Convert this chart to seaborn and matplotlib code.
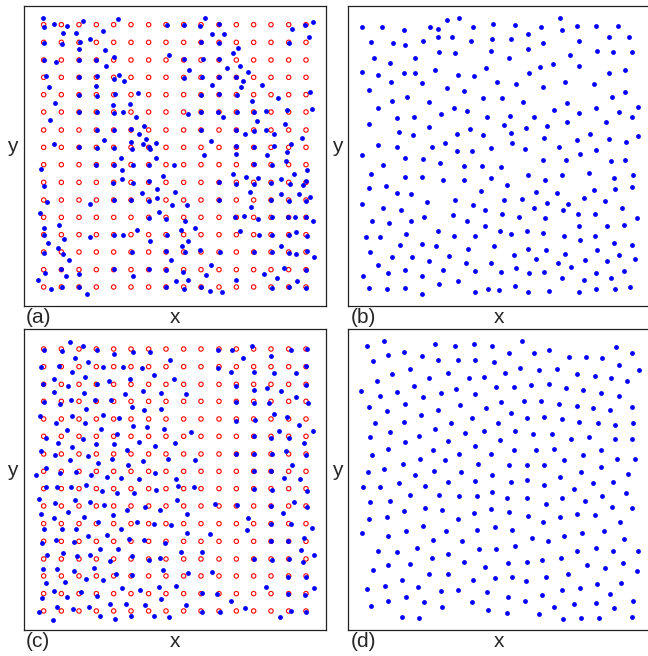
import numpy as np
import matplotlib
matplotlib.use("Agg")
import matplotlib.pyplot as plt
import seaborn as sns

sns.set_style("white")
plt.rcParams['font.family'] = ['Liberation Sans', 'DejaVu Sans']

# ---------------- data (units = 1/3 pixel, y downward) -------------
# lattice positions of the red open circles (panels a and c)
lattice_x = [71, 124, 177, 229, 281, 333, 386, 438, 491, 543, 597, 649, 701, 753, 806, 858]
a_lattice_y = [58, 111, 164, 216, 268, 320, 374, 426, 478, 531, 584, 636, 688, 740, 793, 845]
c_lattice_y = [72, 125, 178, 229, 282, 334, 387, 439, 491, 543, 596, 649, 702, 753, 806, 858]

a_blue = [(68,38),(73,65),(103,57),(140,61),(190,48),(128,82),(167,82),(295,42),(249,76),(556,37),(441,60),(491,60),(541,62),(598,57),(815,70),(856,60),(878,50),
(73,114),(125,116),(180,110),(210,100),(178,132),(576,87),(613,87),(543,111),(598,113),(808,114),(866,95),(254,133),(653,127),(639,144),
(71,163),(108,171),(178,165),(229,165),(282,155),(259,182),(447,150),(492,161),(548,162),(597,162),(659,181),(622,187),(684,199),(508,194),
(78,211),(87,246),(178,216),(231,213),(281,220),(296,208),(313,228),(227,243),(491,219),(545,216),(598,214),(648,216),(670,228),(662,245),(576,238),(727,240),
(105,292),(177,268),(231,271),(285,267),(355,264),(278,300),(331,295),(543,268),(598,267),(650,269),(773,279),(695,288),(869,260),
(91,344),(177,321),(231,321),(282,324),(310,320),(348,334),(544,320),(595,320),(610,336),(651,321),(701,320),(738,317),(712,347),(800,315),(877,312),(503,327),
(230,373),(283,374),(333,371),(373,363),(358,386),(377,402),(251,403),(543,374),(648,374),(674,386),(701,376),(738,374),(763,387),(794,355),(845,397),
(103,417),(178,426),(230,428),(283,427),(333,411),(337,432),(370,416),(387,425),(391,430),(408,412),(573,406),(648,423),(701,426),(763,421),(812,416),(800,440),(551,448),(648,446),(741,449),
(304,457),(409,459),(64,491),(229,479),(281,479),(306,495),(340,478),(387,479),(461,480),(701,477),(755,480),(799,468),(862,495),(822,505),
(71,543),(278,533),(306,522),(338,532),(386,528),(429,513),(412,550),(466,559),(367,563),(597,530),(640,507),(649,535),(677,516),(701,535),(714,518),(753,532),(782,522),(809,535),(850,539),(857,528),(690,560),
(80,591),(209,595),(283,584),(334,584),(387,587),(410,577),(457,600),(500,598),(597,584),(694,604),(753,584),(808,587),(784,566),(836,565),(857,587),(870,575),
(60,623),(71,669),(118,658),(387,637),(416,621),(437,642),(494,646),(645,636),(673,632),(714,640),(755,636),(803,636),(826,634),(858,636),(878,646),
(72,689),(132,701),(210,695),(281,688),(310,690),(351,674),(390,707),(441,689),(483,673),(526,669),(504,706),(486,721),(660,678),(717,688),(755,689),(806,688),(829,681),(862,692),
(83,713),(72,742),(115,727),(128,746),(147,763),(335,741),(438,738),(494,741),(541,734),(600,740),(452,765),(701,740),(755,741),(784,721),(806,743),(829,745),(862,737),(882,755),
(75,803),(123,790),(139,812),(177,807),(283,792),(340,812),(387,792),(437,793),(489,799),(558,809),(574,780),(649,825),(731,807),(771,819),(791,787),(859,793),(831,827),
(54,825),(93,852),(126,845),(177,845),(201,867),(438,846),(469,826),(492,850),(504,823),(543,846),(571,856),(606,861),(755,848),(806,845),(859,847)]

b_blue = [(65,64),(125,64),(192,74),(269,64),(293,71),(320,44),(356,39),(400,64),(459,57),(524,59),(604,64),(660,37),(665,74),(712,61),(767,62),(833,61),
(93,111),(158,114),(195,118),(249,107),(294,94),(337,96),(393,107),(456,101),(514,101),(563,86),(610,114),(718,106),(808,94),(867,96),
(103,157),(149,172),(226,157),(296,141),(345,143),(454,136),(508,157),(565,130),(690,148),(771,136),(820,140),(877,140),
(66,200),(113,209),(152,230),(192,203),(224,203),(246,232),(286,195),(354,209),(401,212),(438,188),(471,229),(528,237),(567,204),(601,185),(640,177),(608,244),(676,229),(718,182),(761,237),(808,202),(855,195),
(88,254),(155,287),(201,274),(266,289),(320,248),(372,256),(429,277),(487,277),(550,291),(682,294),(642,313),(816,275),(856,261),(894,304),
(115,309),(170,338),(221,334),(303,326),(343,307),(381,318),(442,336),(509,332),(581,334),(716,322),(768,308),(836,320),(875,336),
(87,356),(177,381),(219,389),(268,366),(350,386),(390,371),(429,389),(491,359),(514,383),(559,369),(620,361),(682,351),(798,349),(751,386),(613,398),(895,393),
(113,418),(172,425),(275,425),(315,412),(350,438),(395,437),(452,428),(517,412),(556,432),(658,425),(710,403),(769,433),(808,401),(858,410),(720,446),(66,450),
(130,480),(194,458),(249,460),(299,473),(372,483),(427,482),(484,486),(610,463),(679,463),(812,467),(855,465),
(93,507),(194,515),(247,515),(308,525),(373,525),(454,519),(563,510),(614,525),(667,508),(747,503),(821,517),(878,510),
(87,547),(137,543),(170,564),(213,566),(422,557),(501,540),(587,561),(652,564),(761,554),(824,552),(877,545),
(65,597),(128,608),(182,613),(261,591),(346,584),(400,600),(436,615),(491,584),(545,582),(581,608),(622,592),(684,597),(670,613),(731,577),(795,587),(845,607),
(95,648),(146,653),(212,648),(251,636),(340,629),(381,646),(486,627),(536,636),(615,638),(714,625),(766,625),(892,639),
(78,696),(120,695),(199,686),(293,676),(343,693),(404,693),(435,663),(480,677),(513,686),(560,678),(610,683),(673,693),(718,663),(719,705),(766,693),(800,663),(853,659),
(90,740),(157,754),(179,718),(246,717),(289,722),(384,732),(462,722),(563,732),(619,735),(522,750),(675,746),(771,735),(822,713),(875,720),
(113,780),(217,755),(268,766),(326,752),(377,772),(454,772),(528,788),(588,762),(654,774),(694,784),(734,764),(802,768),(838,750),(885,762),
(68,811),(144,802),(196,795),(247,811),(308,795),(355,827),(404,797),(483,801),(568,804),(612,801),(665,819),(733,824),(768,804),(813,817),(852,797),
(87,847),(142,852),(194,847),(246,865),(298,837),(405,861),(443,851),(478,854),(525,842),(563,859),(627,858),(717,861),(768,852),(825,850),(869,844)]

c_blue = [(149,50),(189,62),(72,75),(127,77),(231,75),(283,87),(338,82),(389,82),(164,99),(204,112),(155,140),(62,127),(117,124),(248,127),(308,126),(365,129),(403,151),(449,104),(594,75),(635,75),(696,62),(669,100),(752,94),(812,75),(861,72),(594,129),(633,140),(702,141),(763,145),(828,145),(859,124),
(103,162),(69,178),(103,200),(145,183),(195,156),(192,203),(230,178),(267,167),(330,163),(315,206),(370,199),(423,203),(462,162),(499,206),(647,182),(701,195),(740,189),(784,198),(859,179),
(72,230),(119,236),(153,224),(199,251),(226,226),(274,226),(335,245),(373,255),(423,253),(648,232),(701,235),(746,235),(828,216),(863,233),
(60,274),(108,293),(157,273),(195,295),(249,271),(298,278),(338,302),(382,306),(433,312),(514,322),(648,287),(704,285),(762,268),(801,276),(838,301),(878,319),
(79,338),(113,354),(142,316),(155,366),(189,341),(228,356),(244,313),(291,328),(281,358),(358,351),(406,363),(466,354),(701,334),(752,339),(776,318),(806,338),(852,354),
(62,379),(105,390),(150,404),(203,392),(233,414),(275,401),(320,374),(325,419),(368,408),(443,401),(525,404),(649,387),(702,387),(755,388),(797,379),(859,390),(817,419),
(78,429),(48,449),(121,444),(169,441),(212,450),(404,443),(701,439),(752,438),
(262,456),(304,458),(357,461),(467,462),(791,458),(839,463),(79,485),(112,485),(152,485),(199,480),(245,498),(290,505),(342,503),(409,495),(474,482),(522,485),(703,493),(756,495),(862,497),
(58,522),(105,535),(166,524),(210,532),(251,540),(321,555),(376,546),(420,555),(471,525),(586,537),(651,541),(752,543),(823,530),(860,546),(62,567),(101,579),(143,562),(191,575),(278,569),(501,568),(789,565),(685,579),
(71,611),(127,611),(169,611),(234,591),(303,611),(352,591),(402,596),(453,600),(754,596),(814,598),(875,608),(681,615),(570,627),(501,625),
(65,653),(107,646),(162,651),(203,634),(261,631),(328,641),(372,646),(436,653),(241,671),(294,671),(754,649),(805,649),(853,638),(842,676),(883,689),
(82,691),(130,684),(172,693),(211,689),(269,707),(337,693),(388,704),(419,698),(484,682),(546,682),(701,703),(757,705),(806,703),(850,711),
(69,733),(112,732),(162,737),(222,728),(77,774),(135,770),(199,762),(249,766),(289,748),(337,749),(428,736),(504,743),(576,740),(469,783),(417,785),(805,755),(858,755),
(103,797),(66,818),(140,817),(182,801),(230,812),(305,788),(359,794),(424,823),(545,805),(592,807),(738,786),(805,806),(856,810),(883,790),(632,828),
(58,862),(98,884),(110,845),(160,851),(206,847),(241,873),(271,836),(318,837),(284,882),(333,872),(375,839),(401,874),(448,875),(499,841),(547,862),(600,861),(676,850),(780,876),(812,858),(858,860)]

d_blue = [(80,62),(132,47),(286,57),(346,62),(403,57),(457,64),(546,49),(827,67),(876,84),
(98,109),(144,91),(192,82),(246,94),(295,105),(355,105),(405,104),(461,111),(506,84),(582,84),(628,74),(687,96),(738,96),(785,99),(838,119),(897,134),
(110,168),(157,148),(210,132),(267,159),(325,143),(386,159),(433,157),(494,143),(541,130),(597,134),(651,133),(712,146),(765,153),(812,159),(862,168),
(63,198),(120,213),(172,200),(222,183),(248,216),(303,205),(348,193),(405,208),(469,185),(521,186),(574,181),(628,178),(677,189),(729,196),(783,203),(837,213),
(87,246),(142,257),(196,237),(244,269),(294,255),(359,240),(439,249),(483,232),(513,264),(551,228),(603,227),(657,238),(711,243),(760,249),(810,256),(875,246),
(106,293),(149,321),(192,292),(237,334),(286,311),(333,294),(374,324),(397,280),(431,319),(474,294),(526,317),(562,278),(612,277),(580,328),(635,326),(665,282),(716,292),(773,294),(826,299),(880,294),(692,342),(746,336),(825,341),(875,342),
(90,336),(196,351),(323,349),(405,362),(479,346),
(96,391),(145,371),(190,416),(241,403),(278,374),(316,406),(357,386),(415,418),(452,386),(508,421),(521,374),(560,421),(588,376),(611,421),(642,371),(672,406),(729,391),(783,374),(831,401),(886,401),(783,425),
(85,442),(133,432),(226,450),(281,438),(364,441),(457,450),(724,441),(864,446),
(659,456),
(68,486),(121,485),(176,473),(256,484),(325,472),(404,468),(514,470),(560,465),(612,480),(702,492),(759,473),(820,471),
(90,530),(149,528),(209,510),(296,511),(357,513),(410,513),(456,500),(502,519),(561,519),(617,538),(667,520),(734,527),(785,514),(858,503),
(87,581),(140,577),(192,559),(254,550),(307,555),(354,582),(401,564),(454,553),(506,560),(565,573),(609,590),(661,575),(712,566),(766,571),(817,547),(875,548),(840,591),
(66,625),(144,632),(198,619),(248,604),(317,617),(411,614),(464,606),(516,614),(278,646),(367,648),(577,639),(624,647),(673,632),(727,624),(791,619),(853,641),
(113,677),(172,681),(230,669),(277,699),(325,687),(416,673),(469,671),(524,663),(372,711),(434,725),(503,715),(561,712),(606,704),(664,699),(711,679),(768,669),(820,679),(895,679),(741,721),(796,730),(849,715),(890,738),
(100,736),(145,721),(211,718),(186,764),(268,746),(323,748),(399,766),(465,760),(516,756),(559,768),(618,755),(685,746),(80,791),(134,783),(234,785),(303,797),(355,794),(441,802),(667,796),(720,788),(770,776),(843,775),(810,808),
(93,843),(145,828),(197,817),(253,831),(305,847),(396,830),(503,815),(556,827),(605,810),(443,854),(500,864),(597,868),(642,845),(702,838),(767,834),(823,850),(878,827),(187,875),(236,878),(668,882),(722,878),(778,878),(875,875)]

panel_labels = ["(a)", "(b)", "(c)", "(d)"]
x_label = "x"
y_label = "y"

# ---------------- layout ----------------
W, H = 648, 656
fig = plt.figure(figsize=(W / 100, H / 100), dpi=100)

def frac(left, top, w, h):
    return [left / W, (H - top - h) / H, w / W, h / H]

axes_specs = {
    "(a)": (frac(24, 6, 302, 300), (12, 918), (902, 2)),
    "(b)": (frac(348.3, 6, 302, 300), (25, 931), (902, 2)),
    "(c)": (frac(24, 329, 302, 301.3), (12, 918), (916, 12)),
    "(d)": (frac(348.3, 329, 302, 301.3), (25, 931), (916, 12)),
}

blue = "#0000ff"
red = "#ff0000"

def draw(label, blue_pts, lattice_y=None):
    rect, xl, yl = axes_specs[label]
    ax = fig.add_axes(rect)
    if lattice_y is not None:
        gx, gy = np.meshgrid(lattice_x, lattice_y)
        sns.scatterplot(x=gx.ravel(), y=gy.ravel(), ax=ax, marker="o",
                        facecolors="none", edgecolors=red, linewidths=0.8, s=10,
                        legend=False, zorder=2)
    pts = np.array(blue_pts)
    sns.scatterplot(x=pts[:, 0], y=pts[:, 1], ax=ax, color=blue, s=12,
                    linewidth=0, legend=False, zorder=3)
    ax.set_xlim(*xl)
    ax.set_ylim(*yl)
    ax.set_xticks([])
    ax.set_yticks([])
    ax.set_xlabel("")
    ax.set_ylabel("")
    for sp in ax.spines.values():
        sp.set_visible(True)
        sp.set_color("#222222")
        sp.set_linewidth(0.9)
    ax.text(0.007, -0.056, label, transform=ax.transAxes, fontsize=15,
            ha="left", va="baseline")
    ax.text(0.5, -0.056, x_label, transform=ax.transAxes, fontsize=15,
            ha="center", va="baseline")
    ax.text(-0.038, 0.53, y_label, transform=ax.transAxes, fontsize=15,
            ha="center", va="center")
    return ax

draw("(a)", a_blue, a_lattice_y)
draw("(b)", b_blue)
draw("(c)", c_blue, c_lattice_y)
draw("(d)", d_blue)

fig.savefig("out.png", dpi=100)
